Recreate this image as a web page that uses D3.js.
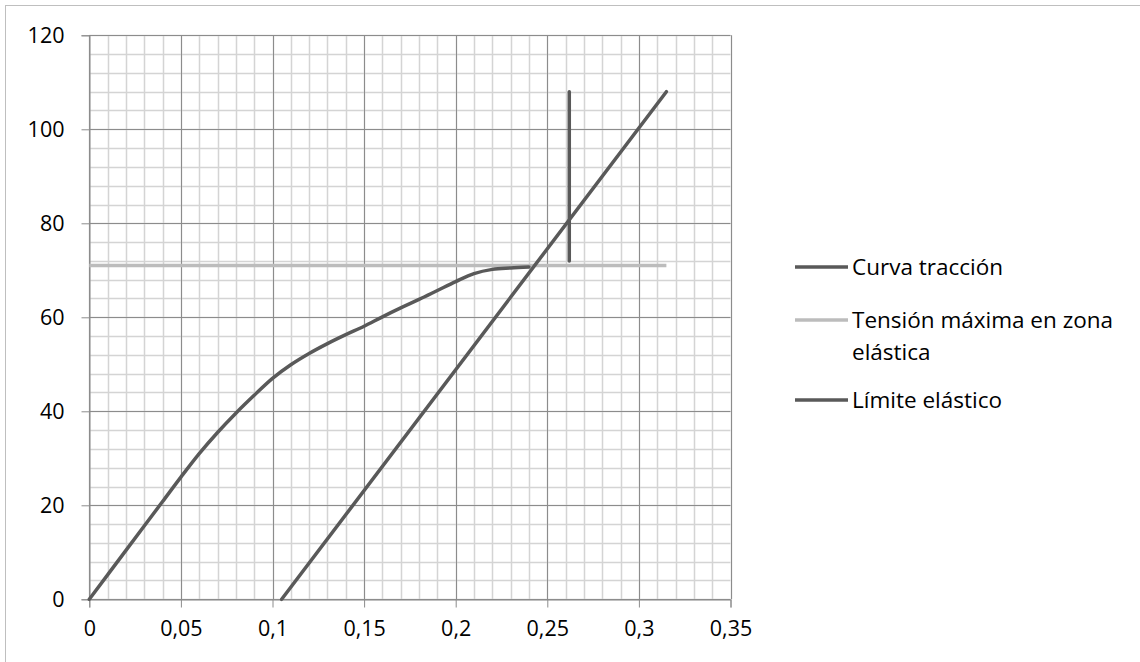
<!DOCTYPE html>
<html lang="es">
<head>
<meta charset="utf-8">
<title>Curva tracción</title>
<script src="https://d3js.org/d3.v7.min.js"></script>
<style>
  body { margin: 0; background: #fff; }
  svg text { font-family: "Open Sans", Lato, sans-serif; fill: #000; }
</style>
</head>
<body>
<div id="chart"></div>
<script>
// data
var curvaX = [0, 0.02, 0.04, 0.05, 0.06, 0.07, 0.08, 0.09, 0.10, 0.11, 0.12, 0.13, 0.14, 0.15, 0.16, 0.17, 0.18, 0.19, 0.20, 0.21, 0.22, 0.23, 0.24];
var curvaY = [0, 10.4, 20.8, 26, 31, 35.5, 39.6, 43.4, 47.0, 49.9, 52.3, 54.4, 56.3, 58.1, 60.1, 62, 63.8, 65.7, 67.6, 69.3, 70.2, 70.5, 70.7];
var tensionX = [0, 0.315];
var tensionY = [71, 71];
var limiteX = [0.105, 0.315];
var limiteY = [0, 108];
var verticalX = [0.262, 0.262];
var verticalY = [72, 108];

var xTicks = [0, 0.05, 0.1, 0.15, 0.2, 0.25, 0.3, 0.35];
var yTicks = [0, 20, 40, 60, 80, 100, 120];
var legendNames = ["Curva tracción", "Tensión máxima en zona elástica", "Límite elástico"];

var W = 1140, H = 662;
var margin = {left: 89.3, top: 35.3, right: 1140 - 730.5, bottom: 662 - 599.3};

var svg = d3.select("#chart").append("svg")
    .attr("width", W)
    .attr("height", H);

// outer frame
svg.append("rect")
    .attr("x", 5.5).attr("y", 5.5)
    .attr("width", W).attr("height", H)
    .attr("fill", "none")
    .attr("stroke", "#bfbfbf");

var x = d3.scaleLinear().domain([0, 0.35]).range([margin.left, W - margin.right]);
var y = d3.scaleLinear().domain([0, 120]).range([H - margin.bottom, margin.top]);

var dark = "#595959", light = "#bcbcbc";

// minor grid
var grid = svg.append("g");
grid.selectAll(".vx").data(d3.range(0, 36).map(function(i) { return i * 0.01; }))
  .enter().append("line")
    .attr("x1", function(d) { return Math.round(x(d)) + 0.5; })
    .attr("x2", function(d) { return Math.round(x(d)) + 0.5; })
    .attr("y1", y(0)).attr("y2", y(120))
    .attr("stroke", "#d4d4d4").attr("stroke-width", 1.5);
grid.selectAll(".hy").data(d3.range(0, 31).map(function(i) { return i * 4; }))
  .enter().append("line")
    .attr("y1", function(d) { return Math.round(y(d)) + 0.5; })
    .attr("y2", function(d) { return Math.round(y(d)) + 0.5; })
    .attr("x1", x(0)).attr("x2", x(0.35))
    .attr("stroke", "#d4d4d4").attr("stroke-width", 1.5);

// major grid
grid.selectAll(".mx").data(xTicks)
  .enter().append("line")
    .attr("x1", function(d) { return Math.round(x(d)) + 0.5; })
    .attr("x2", function(d) { return Math.round(x(d)) + 0.5; })
    .attr("y1", y(0)).attr("y2", y(120))
    .attr("stroke", "#8c8c8c");
grid.selectAll(".my").data(yTicks)
  .enter().append("line")
    .attr("y1", function(d) { return Math.round(y(d)) + 0.5; })
    .attr("y2", function(d) { return Math.round(y(d)) + 0.5; })
    .attr("x1", x(0)).attr("x2", x(0.35))
    .attr("stroke", "#8c8c8c");

// axes
var fmt = function(d) { return String(d).replace(".", ","); };
var xAxis = svg.append("g")
    .attr("transform", "translate(0," + (Math.round(y(0)) + 0.5) + ")")
    .call(d3.axisBottom(x).tickValues(xTicks).tickFormat(fmt).tickSize(8).tickPadding(13));
var yAxis = svg.append("g")
    .attr("transform", "translate(" + (Math.round(x(0)) + 0.5) + ",0)")
    .call(d3.axisLeft(y).tickValues(yTicks).tickSize(8).tickPadding(8));
[xAxis, yAxis].forEach(function(a) {
  a.select(".domain").attr("stroke", "#8c8c8c");
  a.selectAll(".tick line").attr("stroke", "#8c8c8c");
  a.selectAll(".tick text").style("font-size", "21.5px").attr("fill", "#000");
});
yAxis.selectAll(".tick text").attr("dx", "-9");

// series
var line = d3.line().x(function(d) { return x(d[0]); }).y(function(d) { return y(d[1]); });
var smooth = d3.line().curve(d3.curveMonotoneX)
    .x(function(d) { return x(d[0]); }).y(function(d) { return y(d[1]); });

svg.append("path")
    .datum(d3.zip(tensionX, tensionY))
    .attr("d", line)
    .attr("fill", "none").attr("stroke", light).attr("stroke-width", 3.5);

svg.append("path")
    .datum(d3.zip(curvaX, curvaY))
    .attr("d", smooth)
    .attr("fill", "none").attr("stroke", dark).attr("stroke-width", 3.5)
    .attr("stroke-linecap", "round");

svg.append("path")
    .datum(d3.zip(limiteX, limiteY))
    .attr("d", line)
    .attr("fill", "none").attr("stroke", dark).attr("stroke-width", 3.5)
    .attr("stroke-linecap", "round");

svg.append("path")
    .datum(d3.zip(verticalX, verticalY))
    .attr("d", line)
    .attr("fill", "none").attr("stroke", dark).attr("stroke-width", 3.5)
    .attr("stroke-linecap", "round");

// legend
var legendY = [267, 320, 400];
var legendColors = [dark, light, dark];
var leg = svg.append("g");
legendNames.forEach(function(name, i) {
  leg.append("line")
    .attr("x1", 795).attr("x2", 848)
    .attr("y1", legendY[i]).attr("y2", legendY[i])
    .attr("stroke", legendColors[i]).attr("stroke-width", 3.5);
  var t = leg.append("text")
    .attr("x", 852).attr("y", legendY[i] + 8)
    .style("font-size", "22.5px");
  if (i === 1) {
    t.append("tspan").attr("x", 852).text("Tensión máxima en zona");
    t.append("tspan").attr("x", 852).attr("dy", 32).text("elástica");
  } else {
    t.text(name);
  }
});
</script>
</body>
</html>
